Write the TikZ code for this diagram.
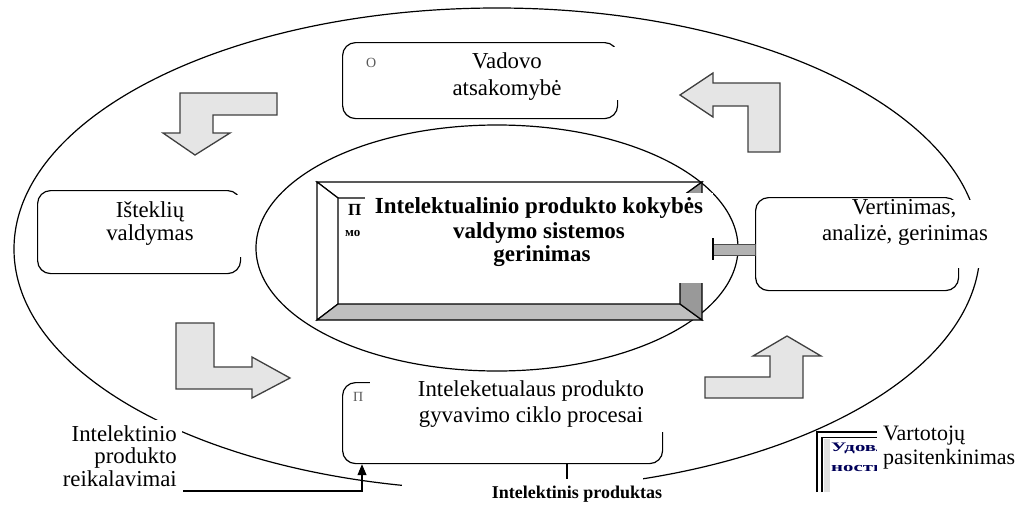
\documentclass[tikz,border=0pt]{standalone}
\usepackage{fontspec}
\setmainfont{Liberation Serif}
\usetikzlibrary{arrows.meta,calc}
\begin{document}
\begin{tikzpicture}[x=1pt,y=-1pt,
  rbox/.style={draw=black, line width=1.2pt, rounded corners=13pt, fill=white, inner sep=0pt, anchor=north west},
  barrow/.style={draw=black!75, line width=1.3pt, fill=black!10, line join=miter},
  patch/.style={fill=white, draw=none},
  txt/.style={font=\fontsize{22.8}{25}\selectfont, inner sep=0pt, anchor=base},
  btxt/.style={font=\bfseries\fontsize{23}{25}\selectfont, inner sep=0pt, anchor=base},
  frag/.style={font=\fontsize{14}{15}\selectfont, inner sep=0pt, anchor=base west, text=black!65},
  rufrag/.style={font=\bfseries\fontsize{13}{13}\selectfont, inner sep=0pt, anchor=base west, text=blue!35!black},
  face/.style={draw=black, line width=1.2pt, line join=miter},
]
\useasboundingbox (0,0) rectangle (1024,506);
\fill[white] (0,0) rectangle (1024,506);

% ellipses
\draw[line width=1.2pt] (497,249) ellipse [x radius=483, y radius=241];
\draw[line width=1.2pt] (497,248) ellipse [x radius=241, y radius=123];

% rounded boxes
\node[rbox, minimum width=275, minimum height=76] (lead) at (342,42) {};
\node[rbox, minimum width=203, minimum height=83] (res) at (37,190) {};
\node[rbox, minimum width=203, minimum height=93] (eval) at (755,197) {};
\node[rbox, minimum width=320, minimum height=81] (proc) at (342,382) {};

% central bevelled box
\node[inner sep=0pt, minimum width=385, minimum height=138, anchor=north west] (core) at (317,182) {};
\filldraw[face, fill=white] (317,182) -- (702,182) -- (680,198) -- (338,198) -- cycle;
\filldraw[face, fill=white] (317,182) -- (338,198) -- (338,304) -- (317,320) -- cycle;
\filldraw[face, fill=black!25] (317,320) -- (702,320) -- (680,304) -- (338,304) -- cycle;
\filldraw[face, fill=black!40] (702,182) -- (702,320) -- (680,304) -- (680,198) -- cycle;
\node[font=\bfseries\fontsize{17}{17}\selectfont, inner sep=0pt, anchor=base west] (f1) at (348,215) {П};
\node[font=\bfseries\fontsize{13}{13}\selectfont, inner sep=0pt, anchor=base west] (f2) at (345,236) {мо};

% connector centre -> evaluation (grey bar)
\filldraw[draw=black!70, line width=1pt, fill=black!30] ($(core.east)+(0,-6.5)$) rectangle ($(core.east -| eval.west)+(0,4.5)$);

% block arrows
\filldraw[barrow] (277,93) -- (180,93) -- (180,133) -- (163,133) -- (195,155) -- (230,133) -- (213,133) -- (213,115) -- (277,115) -- cycle;
\filldraw[barrow] (680,95) -- (713,73) -- (713,83) -- (780,83) -- (780,152) -- (748,152) -- (748,106) -- (713,106) -- (713,117) -- cycle;
\filldraw[barrow] (176,323) -- (214,323) -- (214,367) -- (252,367) -- (252,357) -- (290,378) -- (252,398) -- (252,389) -- (176,389) -- cycle;
\filldraw[barrow] (705,377) -- (770,377) -- (770,356) -- (753,356) -- (787,336) -- (821,356) -- (803,356) -- (803,398) -- (705,398) -- cycle;

% fragments of covered text
\node[frag] (f3) at (366,67) {O};
\node[frag] (f4) at (353,401) {П};

% frame bottom right
\draw[line width=2.4pt] (817,492) -- (817,432) -- (880,432);
\draw[line width=1.2pt] (822,492) -- (822,437.5) -- (880,437.5);
\fill[black!12] (824,439) rectangle (830,492);
\node[rufrag] (f5) at (831,451) {\scalebox{1.6}[1]{Удовл}};
\node[rufrag] (f6) at (831,471) {\scalebox{1.6}[1]{ность}};

% requirement arrow
\coordinate (req) at (183,491);
\draw[line width=1.1pt, -{Triangle[width=9pt,length=11pt]}] (req) -| ($(proc.south west)+(20,0)$);

% patches
\fill[patch] (365,193) rectangle (713,283);
\fill[patch] (390,47) rectangle (622,100);
\fill[patch] (100,195) rectangle (246,257);
\fill[patch] (812,200) rectangle (993,268);
\fill[patch] (370,374) rectangle (667,432);
\fill[patch] (402,478) rectangle (643,506);
\fill[patch] (60,420) rectangle (182,495);
\fill[patch] (877,420) rectangle (1024,478);

\draw[line width=1.6pt] (713,238) -- (713,260);

% product line
\draw[line width=1.2pt] ($(proc.south west)+(225,0)$) -- ++(0,15);

% texts
\node[txt] (t1) at (507,68) {Vadovo};
\node[txt] (t2) at (507,95) {atsakomybė};
\node[txt] (t3) at (150,217) {Išteklių};
\node[txt] (t4) at (150,240) {valdymas};
\node[txt] (t5) at (904,214) {Vertinimas,};
\node[txt] (t6) at (905,240) {analizė, gerinimas};
\node[txt] (t7) at (531,396) {Inteleketualaus produkto};
\node[txt] (t8) at (531,422) {gyvavimo ciklo procesai};
\node[btxt] (c1) at (539,213) {Intelektualinio produkto kokybės};
\node[btxt] (c2) at (539,238) {valdymo sistemos};
\node[btxt] (c3) at (542,261) {gerinimas};
\node[txt, anchor=base east] (r1) at (177,441) {Intelektinio};
\node[txt, anchor=base east] (r2) at (177,463) {produkto};
\node[txt, anchor=base east] (r3) at (177,486) {reikalavimai};
\node[txt, font=\fontsize{22}{24}\selectfont, anchor=base west] (v1) at (883,440) {Vartotojų};
\node[txt, font=\fontsize{22}{24}\selectfont, anchor=base west] (v2) at (883,464) {pasitenkinimas};
\node[font=\bfseries\fontsize{18}{20}\selectfont, inner sep=0pt, anchor=base] (prod) at (577,498) {Intelektinis produktas};
\end{tikzpicture}
\end{document}
